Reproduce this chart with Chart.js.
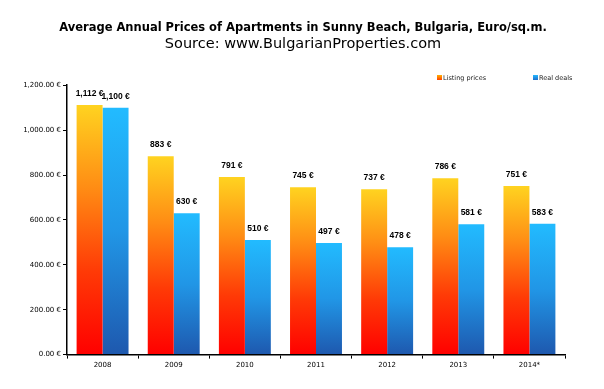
<!DOCTYPE html>
<html>
<head>
<meta charset="utf-8">
<script src="https://cdn.jsdelivr.net/npm/chart.js@4.4.1/dist/chart.umd.min.js"></script>
<style>
  html, body { margin: 0; padding: 0; background: #fff; }
  #wrap { width: 604px; height: 389px; position: relative; }
</style>
</head>
<body>
<div id="wrap"><canvas id="priceChart"></canvas></div>
<script>
// values
const years        = ['2008', '2009', '2010', '2011', '2012', '2013', '2014*'];
const listingPrices = [1112, 883, 791, 745, 737, 786, 751];
const realDeals     = [1100, 630, 510, 497, 478, 581, 583];
const seriesNames   = ['Listing prices', 'Real deals'];

const FONT = '"DejaVu Sans", sans-serif';

// vertical gradient per bar, from bar top down to the zero line
function barGradient(stops) {
  return (context) => {
    const chart = context.chart;
    const yScale = chart.scales.y;
    if (!chart.chartArea || !yScale || context.parsed == null) return stops[stops.length - 1];
    const top = yScale.getPixelForValue(context.parsed.y);
    const bottom = yScale.getPixelForValue(0);
    const g = chart.ctx.createLinearGradient(0, top, 0, bottom);
    stops.forEach((c, i) => g.addColorStop(i / (stops.length - 1), c));
    return g;
  };
}

const euro = v => v.toLocaleString('en-US') + ' €';

// value labels above each bar
const barLabels = {
  id: 'barLabels',
  afterDatasetsDraw(chart) {
    const { ctx } = chart;
    ctx.save();
    ctx.font = 'bold 8.5px "Liberation Sans", sans-serif';
    ctx.fillStyle = '#000';
    ctx.textAlign = 'center';
    ctx.textBaseline = 'bottom';
    chart.data.datasets.forEach((ds, di) => {
      chart.getDatasetMeta(di).data.forEach((bar, i) => {
        ctx.fillText(euro(ds.data[i]), bar.x, bar.y - 7);
      });
    });
    ctx.restore();
  }
};

// small legend in the top-right corner
const cornerLegend = {
  id: 'cornerLegend',
  afterDraw(chart) {
    const { ctx } = chart;
    const items = [
      { x: 437, color: ['#ffb000', '#ff2a00'], text: seriesNames[0] },
      { x: 533, color: ['#22b8ff', '#1e60c0'], text: seriesNames[1] }
    ];
    ctx.save();
    ctx.font = '6.5px ' + FONT;
    ctx.textBaseline = 'middle';
    items.forEach(it => {
      const g = ctx.createLinearGradient(0, 75, 0, 81);
      g.addColorStop(0, it.color[0]);
      g.addColorStop(1, it.color[1]);
      ctx.fillStyle = g;
      ctx.fillRect(it.x, 75, 5, 5);
      ctx.fillStyle = '#222';
      ctx.fillText(it.text, it.x + 6, 78);
    });
    ctx.restore();
  }
};

new Chart(document.getElementById('priceChart'), {
  type: 'bar',
  data: {
    labels: years,
    datasets: [
      {
        label: seriesNames[0],
        data: listingPrices,
        backgroundColor: barGradient(['#ffd320', '#ff8c14', '#ff3a06', '#ff0000']),
        categoryPercentage: 0.73, barPercentage: 1.0,
      },
      {
        label: seriesNames[1],
        data: realDeals,
        backgroundColor: barGradient(['#22bbff', '#2196e6', '#1e58ae']),
        categoryPercentage: 0.73, barPercentage: 1.0,
      }
    ]
  },
  options: {
    responsive: true, maintainAspectRatio: false, animation: false,
    layout: { padding: { left: 6, right: 4, top: 0, bottom: 18 } },
    plugins: {
      legend: { display: false },
      tooltip: { enabled: false },
      title: {
        display: true,
        text: 'Average Annual Prices of Apartments in Sunny Beach, Bulgaria, Euro/sq.m.',
        color: '#000',
        font: { family: FONT, size: 11.5, weight: 'bold' },
        padding: { top: 21, bottom: 1 }
      },
      subtitle: {
        display: true,
        text: 'Source: www.BulgarianProperties.com',
        color: '#000',
        font: { family: FONT, size: 14.5 },
        padding: { top: 0, bottom: 32 }
      }
    },
    scales: {
      x: {
        grid: { display: true, drawOnChartArea: false, color: '#000', tickLength: 4, offset: true },
        border: { color: '#000', width: 1.5 },
        ticks: { color: '#000', font: { family: FONT, size: 7 }, padding: 2 }
      },
      y: {
        min: 0, max: 1200,
        afterFit: s => { s.width = 61; },
        grid: { display: true, drawOnChartArea: false, color: '#000', tickLength: 4 },
        border: { color: '#000', width: 1.5 },
        ticks: {
          stepSize: 200, color: '#000', padding: 2,
          font: { family: FONT, size: 7 },
          callback: v => v.toLocaleString('en-US', { minimumFractionDigits: 2, maximumFractionDigits: 2 }) + ' €'
        }
      },
      // empty right-hand margin so the titles stay centred on the page
      yRight: {
        position: 'right', min: 0, max: 1200,
        afterFit: s => { s.width = 35; },
        grid: { display: false }, border: { display: false }, ticks: { display: false }
      }
    }
  },
  plugins: [barLabels, cornerLegend]
});
</script>
</body>
</html>
